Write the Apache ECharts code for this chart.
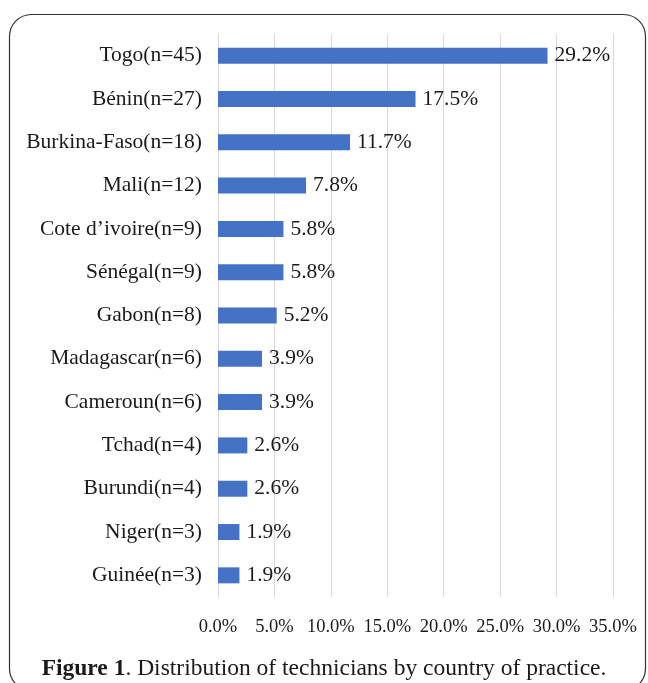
<!DOCTYPE html>
<html>
<head>
<meta charset="utf-8">
<script src="https://cdn.jsdelivr.net/npm/echarts@6/dist/echarts.min.js"></script>
<style>
  html, body { margin: 0; padding: 0; background: #fff; }
  #chart { width: 648px; height: 683px; }
</style>
</head>
<body>
<div id="chart"></div>
<script>
// countries, top to bottom
const countries = ['Togo(n=45)', 'Bénin(n=27)', 'Burkina-Faso(n=18)', 'Mali(n=12)', 'Cote d\u2019ivoire(n=9)',
  'Sénégal(n=9)', 'Gabon(n=8)', 'Madagascar(n=6)', 'Cameroun(n=6)', 'Tchad(n=4)', 'Burundi(n=4)',
  'Niger(n=3)', 'Guinée(n=3)'];
const shares = [29.2, 17.5, 11.7, 7.8, 5.8, 5.8, 5.2, 3.9, 3.9, 2.6, 2.6, 1.9, 1.9];
const xMin = 0, xMax = 35, xStep = 5;

const serif = '"Liberation Serif", "Times New Roman", serif';
const ink = '#1a1a1a';
const chart = echarts.init(document.getElementById('chart'));

chart.setOption({
  animation: false,
  grid: { left: 218, right: 35, top: 34, bottom: 86, containLabel: false },
  xAxis: {
    type: 'value',
    min: xMin, max: xMax, interval: xStep,
    axisLine: { show: false },
    axisTick: { show: false },
    splitLine: { lineStyle: { color: '#d9d9d9', width: 1 } },
    axisLabel: {
      margin: 21,
      fontFamily: serif, fontSize: 18.5, color: ink,
      formatter: v => v.toFixed(1) + '%'
    }
  },
  yAxis: {
    type: 'category',
    data: countries,
    inverse: true,
    axisLine: { show: false },
    axisTick: { show: false },
    axisLabel: { margin: 16, fontFamily: serif, fontSize: 21.5, color: ink }
  },
  series: [{
    type: 'bar',
    data: shares,
    barWidth: 16,
    itemStyle: { color: '#4472C4' },
    label: {
      show: true, position: 'right', distance: 7,
      fontFamily: serif, fontSize: 21.5, color: ink,
      formatter: p => p.value.toFixed(1) + '%'
    }
  }],
  graphic: [
    {
      type: 'rect',
      shape: { x: 9.5, y: 14.5, width: 636, height: 676, r: 22 },
      style: { fill: 'none', stroke: '#333', lineWidth: 1.2 },
      silent: true
    },
    {
      type: 'text',
      left: 'center', top: 657,
      style: {
        text: '{b|Figure 1}. Distribution of technicians by country of practice.',
        font: '23.5px ' + serif,
        fill: ink,
        rich: { b: { fontWeight: 'bold', fontSize: 23.5, fontFamily: serif, fill: ink } }
      }
    }
  ]
});
</script>
</body>
</html>
